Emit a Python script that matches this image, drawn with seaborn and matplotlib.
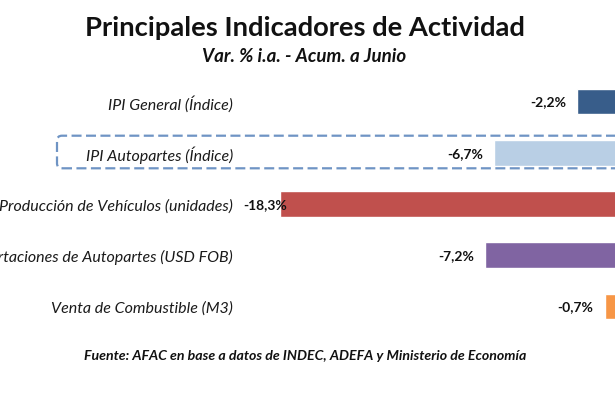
import matplotlib
matplotlib.use("Agg")
import matplotlib.pyplot as plt
import seaborn as sns
from matplotlib.patches import FancyBboxPatch

# data
categories = [
    "IPI General (Índice)",
    "IPI Autopartes (Índice)",
    "Producción de Vehículos (unidades)",
    "Exportaciones de Autopartes (USD FOB)",
    "Venta de Combustible (M3)",
]
values = [-2.2, -6.7, -18.3, -7.2, -0.7]
labels = ["-2,2%", "-6,7%", "-18,3%", "-7,2%", "-0,7%"]
colors = ["#385d8a", "#b9cfe5", "#c0504d", "#8064a2", "#f79646"]

title = "Principales Indicadores de Actividad"
subtitle = "Var. % i.a. - Acum. a Junio"
source = "Fuente: AFAC en base a datos de INDEC, ADEFA y Ministerio de Economía"


def main():
    sns.set_theme(style="white")
    plt.rcParams["font.family"] = ["Lato", "DejaVu Sans"]

    W, H = 615, 410
    fig = plt.figure(figsize=(W / 100, H / 100), dpi=100)

    # plot area: zero sits just past the right edge of the picture
    ax_left_px = 240
    px_per_unit = 18.45
    zero_px = 617.6
    ax = fig.add_axes([ax_left_px / W, 1 - 333.1 / H, 1 - ax_left_px / W, (333.1 - 76.9) / H])

    sns.barplot(x=values, y=categories, hue=categories, palette=colors,
                legend=False, width=0.5, saturation=1, orient="h", ax=ax)
    ax.set_xlim((ax_left_px - zero_px) / px_per_unit, (W - zero_px) / px_per_unit)
    ax.set_xlabel("")
    ax.set_ylabel("")
    ax.set_xticks([])
    ax.tick_params(axis="y", length=0, pad=5)
    for t in ax.get_yticklabels():
        t.set_fontstyle("italic")
        t.set_fontsize(11.5)
        t.set_color("#1a1a1a")
    sns.despine(ax=ax, left=True, bottom=True)

    xmin = ax.get_xlim()[0]
    for i, (v, lab) in enumerate(zip(values, labels)):
        if v - xmin < 3.0:
            ax.annotate(lab, xy=(0, i), xycoords=("axes fraction", "data"),
                        xytext=(2, 0), textcoords="offset points",
                        ha="left", va="center", fontsize=10, fontweight="bold",
                        color="#111111")
        else:
            ax.annotate(lab, xy=(v, i), xytext=(-8, 0), textcoords="offset points",
                        ha="right", va="center", fontsize=10, fontweight="bold",
                        color="#111111")

    # dashed rounded frame around the IPI Autopartes row
    box = FancyBboxPatch((57 / 100, (H - 169.3) / 100), (W + 20 - 57) / 100, 32.6 / 100,
                         boxstyle="round,pad=0,rounding_size=0.05",
                         transform=fig.dpi_scale_trans, fill=False,
                         edgecolor="#6f94c4", linewidth=1.6, linestyle=(0, (4.5, 2)),
                         clip_on=False)
    fig.add_artist(box)

    fig.text(305 / W, 1 - 28 / H, title, ha="center", va="center",
             fontsize=19.7, fontweight="bold", color="#111111")
    fig.text(304 / W, 1 - 57 / H, subtitle, ha="center", va="center",
             fontsize=13.5, fontweight="bold", fontstyle="italic", color="#111111")
    fig.text(305 / W, 1 - 356 / H, source, ha="center", va="center",
             fontsize=10.2, fontweight="bold", fontstyle="italic", color="#111111")

    fig.savefig("out.png", dpi=100)
    plt.close(fig)


if __name__ == "__main__":
    main()
